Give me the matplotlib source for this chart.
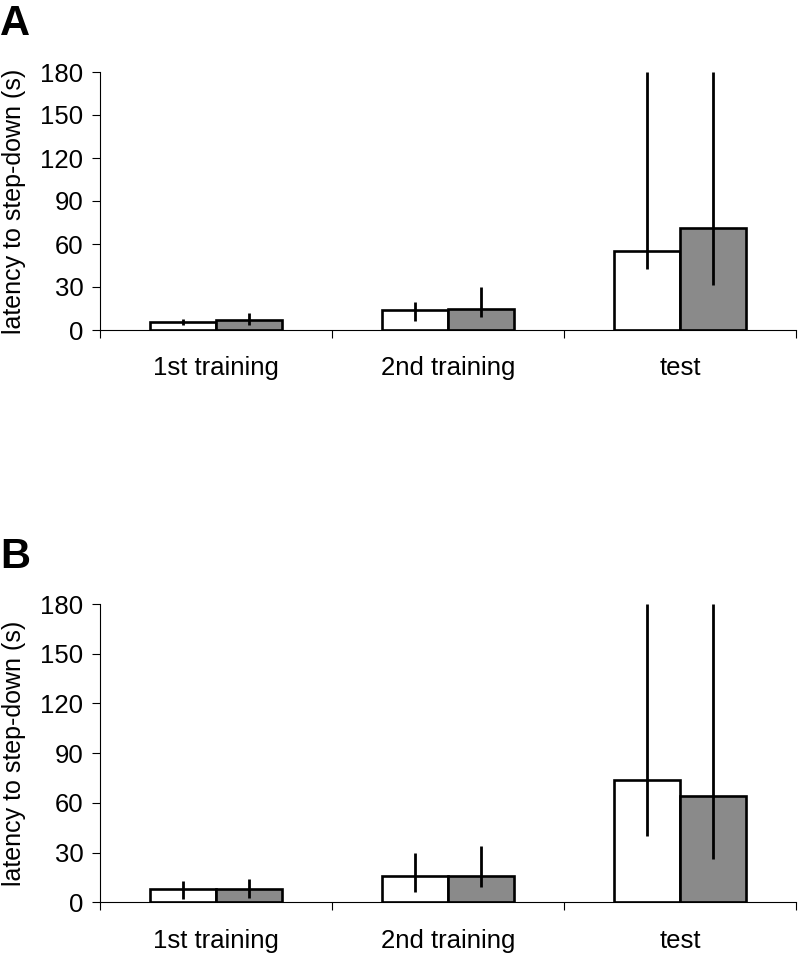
#!/usr/bin/env python3
# Step-down latency, panels A and B
import numpy as np
import matplotlib
matplotlib.use('Agg')
import matplotlib.pyplot as plt

plt.rcParams['font.family'] = ['Liberation Sans', 'DejaVu Sans']

categories = ['1st training', '2nd training', 'test']

# panel A: bar heights and error bar ends (low, high)
a_white = [5.6, 14.0, 55.4]
a_white_lo = [3.5, 6.3, 42.4]
a_white_hi = [7.7, 19.5, 180.0]
a_gray = [7.0, 14.4, 71.2]
a_gray_lo = [3.5, 8.9, 31.4]
a_gray_hi = [11.6, 29.8, 180.0]

# panel B
b_white = [8.0, 15.9, 74.0]
b_white_lo = [1.8, 6.4, 40.0]
b_white_hi = [12.9, 29.6, 180.0]
b_gray = [8.0, 15.9, 64.0]
b_gray_lo = [2.8, 9.4, 26.3]
b_gray_hi = [14.1, 34.2, 180.0]

y_ticks = [0, 30, 60, 90, 120, 150, 180]


def draw_panel(ax, white, w_lo, w_hi, gray, g_lo, g_hi):
    x = np.arange(len(categories))
    bw = 0.285
    ax.bar(x - bw / 2, white, width=bw, color='white', edgecolor='black', linewidth=1.9, zorder=2)
    ax.bar(x + bw / 2, gray, width=bw, color='#8a8a8a', edgecolor='black', linewidth=1.9, zorder=2)
    # error bars are plain vertical lines with no caps
    ax.vlines(x - bw / 2, w_lo, w_hi, colors='black', linewidth=2.0, zorder=3)
    ax.vlines(x + bw / 2, g_lo, g_hi, colors='black', linewidth=2.0, zorder=3)

    ax.set_xlim(-0.5, len(categories) - 0.5)
    ax.set_ylim(0, 180)
    ax.set_yticks(y_ticks)
    ax.tick_params(axis='y', labelsize=18.5, length=6, width=0.8, direction='out', pad=6)
    # category names sit between boundary ticks
    ax.set_xticks(np.arange(-0.5, len(categories)), minor=False)
    ax.set_xticklabels([])
    ax.set_xticks(x, minor=True)
    ax.set_xticklabels(categories, minor=True, fontsize=18.5)
    ax.tick_params(axis='x', which='major', length=6, width=0.8, direction='out')
    ax.tick_params(axis='x', which='minor', length=0, pad=19)
    for s in ['top', 'right']:
        ax.spines[s].set_visible(False)
    ax.spines['left'].set_linewidth(0.8)
    ax.spines['bottom'].set_linewidth(0.8)
    ax.set_ylabel('latency to step-down (s)', fontsize=18)
    ax.yaxis.set_label_coords(-0.107, 0.5)


fig = plt.figure(figsize=(8, 9.6), dpi=100)
ax_a = fig.add_axes([0.125, 0.65625, 0.87, 0.26875])
ax_b = fig.add_axes([0.125, 0.0601, 0.87, 0.3107])

draw_panel(ax_a, a_white, a_white_lo, a_white_hi, a_gray, a_gray_lo, a_gray_hi)
draw_panel(ax_b, b_white, b_white_lo, b_white_hi, b_gray, b_gray_lo, b_gray_hi)

fig.text(0.0, 0.996, 'A', fontsize=30, fontweight='bold', va='top', ha='left')
fig.text(0.0, 0.441, 'B', fontsize=30, fontweight='bold', va='top', ha='left')

fig.savefig('out.png', dpi=100)
